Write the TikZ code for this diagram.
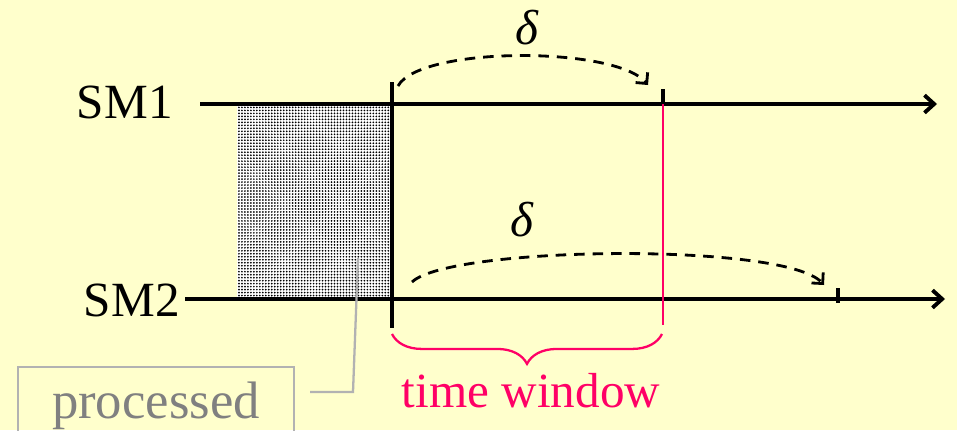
\documentclass[tikz,border=0pt]{standalone}
\usepackage{fontspec}
\setmainfont{Liberation Serif}
\usepackage{tikz}
\usetikzlibrary{arrows.meta, positioning, decorations.pathreplacing, patterns.meta}
\definecolor{slidebg}{RGB}{255, 255, 204}
\definecolor{winpink}{RGB}{255, 0, 102}
\definecolor{procgray}{RGB}{128, 128, 128}
\definecolor{boxgray}{RGB}{178, 178, 178}

\begin{document}
\begin{tikzpicture}[
        x=0.02cm, y=-0.02cm,
        lbl/.style={font=\fontsize{28}{30}\selectfont, inner sep=0pt},
        tline/.style={line width=2.2pt, -{Straight Barb[length=5.5pt, width=10pt]}},
        tickline/.style={line width=2.2pt},
        winline/.style={line width=1.3pt, draw=winpink},
        delayarc/.style={line width=1.6pt, dash pattern=on 6pt off 4.5pt, -{Straight Barb[length=4.5pt, width=9pt]}},
        procbox/.style={draw=boxgray, line width=1.3pt, text=procgray, font=\fontsize{30}{32}\selectfont, minimum width=5.52cm, text height=20pt, text depth=6pt, inner ysep=9pt},
        callout/.style={draw=boxgray, line width=1.3pt}
    ]
        \useasboundingbox (0,0) rectangle (957,430);
        \clip (0,0) rectangle (957,430);
        \fill[slidebg] (0,0) rectangle (957,430);
        % processed part
        \fill[white] (237,106) rectangle (390,298);
        \fill[pattern={Dots[distance=1.7pt, radius=0.55pt]}] (237,106) rectangle (390,298);
        % time lines
        \node[lbl, anchor=base east] (sm1) at (173,118) {SM1};
        \node[lbl, anchor=base east] (sm2) at (180,316) {SM2};
        \coordinate (sm1start) at (200,104);
        \coordinate (sm1end) at (937,104);
        \coordinate (sm2start) at (185,299);
        \coordinate (sm2end) at (945,299);
        \draw[tline] (sm1start) -- (sm1end);
        \draw[tline] (sm2start) -- (sm2end);
        % window bounds
        \coordinate (wintop) at (392,82);
        \coordinate (winbot) at (392,328);
        \coordinate (deltop) at (663,89);
        \coordinate (delmid) at (663,104);
        \coordinate (delbot) at (663,325);
        \coordinate (tick2top) at (838,288);
        \coordinate (tick2bot) at (838,303);
        \draw[tickline] (wintop) -- (winbot);
        \draw[tickline] (deltop) -- (delmid);
        \draw[winline] (delmid) -- (delbot);
        \draw[tickline] (tick2top) -- (tick2bot);
        % delays
        \coordinate (arc1a) at (398,86);
        \coordinate (arc1b) at (648,85);
        \coordinate (arc2a) at (412,282);
        \coordinate (arc2b) at (824,285);
        \draw[delayarc] (arc1a) .. controls (420,46) and (615,46) .. (arc1b);
        \draw[delayarc] (arc2a) .. controls (450,246) and (785,242) .. (arc2b);
        \node[lbl] (delta1) at (527,28) {\itshape δ};
        \node[lbl] (delta2) at (522,220) {\itshape δ};
        % time window
        \coordinate (bracel) at (392,334);
        \coordinate (bracer) at (662,334);
        \draw[winline, decorate, decoration={brace, mirror, amplitude=17pt}] (bracel) -- (bracer);
        \node[lbl, anchor=base, text=winpink] (window) at (531,407) {time window};
        % processed label
        \node[procbox, anchor=base] (proc) at (156,418) {processed};
        \coordinate (callfoot) at (310,392);
        \coordinate (callbend) at (353,392);
        \coordinate (calltip) at (358,258);
        \draw[callout] (callfoot) -- (callbend) -- (calltip);
    \end{tikzpicture}
\end{document}
